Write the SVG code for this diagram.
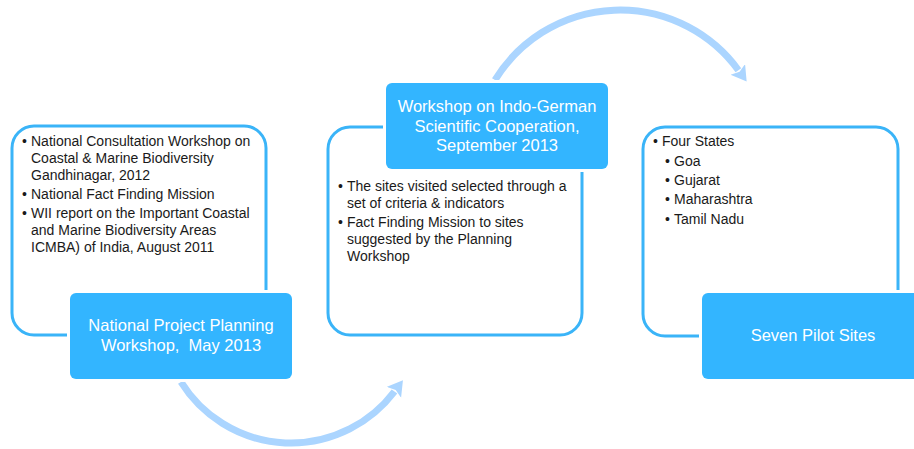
<svg xmlns="http://www.w3.org/2000/svg" width="914" height="449" viewBox="0 0 914 449">
<style>
.outline{fill:#fff;stroke:#3ab4f8;stroke-width:3}
.head{fill:#33b5ff;stroke:#fff;stroke-width:6;paint-order:stroke}
.ht{font-family:"Liberation Sans",Arial,sans-serif;font-size:16.5px;fill:#fff;text-anchor:middle}
.bt{font-family:"Liberation Sans",Arial,sans-serif;font-size:14px;fill:#1a1a1a}
.arc{fill:none;stroke:#abd5ff;stroke-width:7}
</style>
<defs>
<marker id="ah" markerUnits="userSpaceOnUse" markerWidth="20" markerHeight="20" refX="1" refY="9" orient="auto">
<path d="M0,0 L15,9 L0,18 L3,9 z" fill="#abd5ff"/>
</marker>
</defs>
<rect width="914" height="449" fill="#fff"/>
<g id="connectors">
<path class="arc" d="M181,382 A129.7 129.7 0 0 0 394.5,391.5" marker-end="url(#ah)"/>
<path class="arc" d="M495,80 A146.6 146.6 0 0 1 738.4,70.2" marker-end="url(#ah)"/>
</g>
<g id="node1">
<rect class="outline" x="12" y="126" width="254" height="209" rx="22"/>
<text class="bt"><tspan x="22" y="146">•</tspan><tspan x="31" y="146">National Consultation Workshop on</tspan><tspan x="31" y="163">Coastal &amp; Marine Biodiversity</tspan><tspan x="31" y="180">Gandhinagar, 2012</tspan><tspan x="22" y="199">•</tspan><tspan x="31" y="199">National Fact Finding Mission</tspan><tspan x="22" y="218">•</tspan><tspan x="31" y="218">WII report on the Important Coastal</tspan><tspan x="31" y="235">and Marine Biodiversity Areas</tspan><tspan x="31" y="252">ICMBA) of India, August 2011</tspan></text>
<rect class="head" x="70" y="293" width="222" height="86" rx="6"/>
<text class="ht"><tspan x="181" y="331">National Project Planning</tspan><tspan x="181" y="351">Workshop,&#160; May 2013</tspan></text>
</g>
<g id="node2">
<rect class="outline" x="328" y="127" width="254" height="208" rx="22"/>
<rect class="head" x="386" y="83" width="222" height="86" rx="6"/>
<text class="ht"><tspan x="497" y="112">Workshop on Indo-German</tspan><tspan x="497" y="132">Scientific Cooperation,</tspan><tspan x="497" y="151">September 2013</tspan></text>
<text class="bt"><tspan x="338" y="191">•</tspan><tspan x="347" y="191">The sites visited selected through a</tspan><tspan x="347" y="208">set of criteria &amp; indicators</tspan><tspan x="338" y="227">•</tspan><tspan x="347" y="227">Fact Finding Mission to sites</tspan><tspan x="347" y="244">suggested by the Planning</tspan><tspan x="347" y="261">Workshop</tspan></text>
</g>
<g id="node3">
<rect class="outline" x="643" y="127" width="255" height="209" rx="22"/>
<text class="bt"><tspan x="653" y="146">•</tspan><tspan x="662" y="146">Four States</tspan><tspan x="665" y="166">•</tspan><tspan x="674" y="166">Goa</tspan><tspan x="665" y="185">•</tspan><tspan x="674" y="185">Gujarat</tspan><tspan x="665" y="204">•</tspan><tspan x="674" y="204">Maharashtra</tspan><tspan x="665" y="224">•</tspan><tspan x="674" y="224">Tamil Nadu</tspan></text>
<rect class="head" x="702" y="293" width="224" height="86" rx="6"/>
<text class="ht" x="813" y="341">Seven Pilot Sites</text>
</g>
</svg>
